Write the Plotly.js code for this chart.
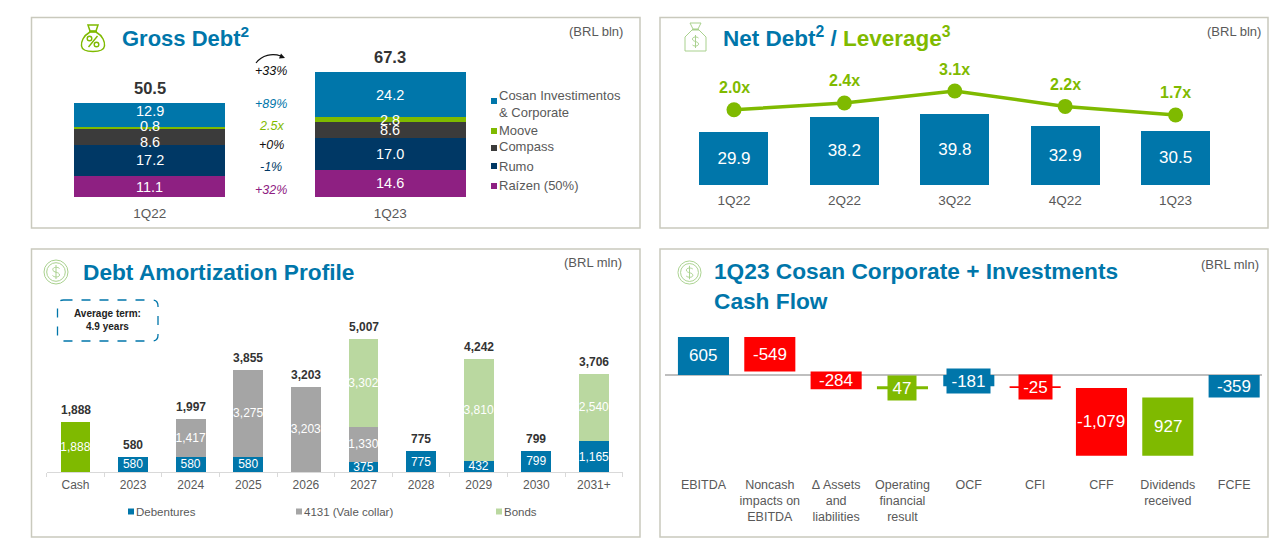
<!DOCTYPE html>
<html><head><meta charset="utf-8">
<script src="https://cdn.plot.ly/plotly-3.0.1.min.js"></script>
<style>html,body{margin:0;padding:0;background:#fff;overflow:hidden}#c{width:1280px;height:551px}</style>
</head><body><div id="c"></div>
<script>
// ---- data ----
const grossCats = ['1Q22','1Q23'];
const raizen = [11.1,14.6];
const rumo = [17.2,17.0];
const compass = [8.6,8.6];
const moove = [0.8,2.8];
const cosan = [12.9,24.2];
const grossTotals = [50.5,67.3];
const grossChanges = ['+33%','+89%','2.5x','+0%','-1%','+32%'];

const netCats = ['1Q22','2Q22','3Q22','4Q22','1Q23'];
const netDebt = [29.9,38.2,39.8,32.9,30.5];
const leverage = [2.0,2.4,3.1,2.2,1.7];

const amortCats = ['Cash','2023','2024','2025','2026','2027','2028','2029','2030','2031+'];
const cash = [1888,null,null,null,null,null,null,null,null,null];
const debentures = [null,580,580,580,null,375,775,432,799,1165];
const vale4131 = [null,null,1417,3275,3203,1330,null,null,null,null];
const bonds = [null,null,null,null,null,3302,null,3810,null,2540];
const amortTotals = [1888,580,1997,3855,3203,5007,775,4242,799,3706];

const flowCats = ['EBITDA','Noncash<br>impacts on<br>EBITDA','Δ Assets<br>and<br>liabilities','Operating<br>financial<br>result','OCF','CFI','CFF','Dividends<br>received','FCFE'];
const flowValues = [605,-549,-284,47,-181,-25,-1079,927,-359];
const flowMeasure = ['absolute','relative','relative','relative','absolute','relative','relative','relative','absolute'];

// ---- style / helpers ----
const W=1280,H=551;
const BLUE='#0076AA',GREEN='#7FBA00',NAVY='#003865',DARK='#3B3B3B',PURPLE='#8E2082',RED='#FF0000',GREY='#A5A5A5',LGREEN='#BAD8A0',TXT='#595959';
const FONT='"Liberation Sans", Arial, sans-serif';
const xd=(a,b)=>[a/W,b/W], yd=(t,b)=>[1-b/H,1-t/H], px=x=>x/W, py=y=>1-y/H;
const note=(x,y,text,size,color,opt={})=>{
  const anchor=opt.xanchor||'left';
  const pad=anchor==='left'?-2:(anchor==='right'?2:0);
  return Object.assign({xref:'paper',yref:'paper',x:px(x+pad),y:py(y),text,showarrow:false,
    xanchor:'left',yanchor:'middle',align:'left',font:{family:FONT,size,color}},opt);
};
const fmt=n=>n.toLocaleString('en-US');

const traces=[];
const stackT=(name,y,color)=>({type:'bar',name,x:grossCats,y,xaxis:'x',yaxis:'y',width:0.628,marker:{color},hoverinfo:'skip',showlegend:false});
const stackSeries=[raizen,rumo,compass,moove,cosan];
traces.push(stackT('Raízen (50%)',raizen,PURPLE),stackT('Rumo',rumo,NAVY),stackT('Compass',compass,DARK),stackT('Moove',moove,GREEN),stackT('Cosan Investimentos & Corporate',cosan,BLUE));

traces.push({type:'bar',name:'Net Debt',x:netCats,y:netDebt,xaxis:'x2',yaxis:'y2',width:0.625,marker:{color:BLUE},
  text:netDebt.map(v=>v.toFixed(1)),textposition:'inside',insidetextanchor:'middle',constraintext:'none',textangle:0,
  insidetextfont:{family:FONT,size:17,color:'#fff'},hoverinfo:'skip',showlegend:false});
traces.push({type:'scatter',mode:'lines+markers',name:'Leverage',x:netCats,y:leverage,xaxis:'x2',yaxis:'y3',
  line:{color:GREEN,width:3.5},marker:{color:GREEN,size:15},hoverinfo:'skip',showlegend:false});

const amortT=(name,y,color)=>({type:'bar',name,x:amortCats,y,xaxis:'x3',yaxis:'y4',width:0.515,marker:{color},
  texttemplate:'%{y:,}',textposition:'inside',insidetextanchor:'middle',constraintext:'none',textangle:0,
  insidetextfont:{family:FONT,size:12,color:'#fff'},hoverinfo:'skip',showlegend:false});
traces.push(amortT('Cash',cash,GREEN),amortT('Debentures',debentures,BLUE),amortT('4131 (Vale collar)',vale4131,GREY),amortT('Bonds',bonds,LGREEN));

traces.push({type:'waterfall',name:'Cash Flow',x:flowCats,y:flowValues,measure:flowMeasure,xaxis:'x4',yaxis:'y5',width:0.77,
  textinfo:'none',connector:{visible:false},hoverinfo:'skip',showlegend:false,
  increasing:{marker:{color:GREEN}},decreasing:{marker:{color:RED}},totals:{marker:{color:BLUE}}});

const ann=[];
// panel titles and units
ann.push(note(122,37,'<b>Gross Debt<sup>2</sup></b>',22,BLUE));
ann.push(note(723,37,`<b>Net Debt<sup>2</sup> / <span style="color:${GREEN}">Leverage<sup>3</sup></span></b>`,22.5,BLUE));
ann.push(note(83,272,'<b>Debt Amortization Profile</b>',22.7,BLUE));
ann.push(note(714,285.5,'<b>1Q23 Cosan Corporate + Investments<br>Cash Flow</b>',22.7,BLUE));
ann.push(note(623,32,'(BRL bln)',13,TXT,{xanchor:'right'}));
ann.push(note(1261,32,'(BRL bln)',13,TXT,{xanchor:'right'}));
ann.push(note(622,263,'(BRL mln)',13,TXT,{xanchor:'right'}));
ann.push(note(1259,264,'(BRL mln)',13,TXT,{xanchor:'right'}));
// gross debt segment labels: drawn over all segments so thin ones stay legible
const nudge={'0:2':-5.5,'0:3':2,'0:4':4.5};
grossCats.forEach((c,i)=>{
  let base=0;
  stackSeries.forEach((s,k)=>{
    ann.push({xref:'x',yref:'y',x:c,y:base+s[i]/2,text:s[i].toFixed(1),showarrow:false,yshift:(nudge[i+':'+k]||0),
      font:{family:FONT,size:14.5,color:'#fff'}});
    base+=s[i];
  });
});
// gross debt totals, change column, legend
grossCats.forEach((c,i)=>ann.push({xref:'x',yref:'y',x:c,y:grossTotals[i],text:'<b>'+grossTotals[i].toFixed(1)+'</b>',showarrow:false,yanchor:'bottom',yshift:4,font:{family:FONT,size:16.5,color:'#333'}}));
const changeColors=['#111',BLUE,GREEN,'#111',NAVY,PURPLE], changeY=[71,104,126,145,167,190];
grossChanges.forEach((t,i)=>ann.push(note(271,changeY[i],'<i>'+t+'</i>',12.5,changeColors[i],{xanchor:'center'})));
const shapes=[];
const swatch=(x,y,color)=>shapes.push({type:'rect',xref:'paper',yref:'paper',x0:px(x),x1:px(x+6),y0:py(y+3),y1:py(y-3),fillcolor:color,line:{width:0}});
[['Cosan Investimentos<br>& Corporate',104,BLUE,101],['Moove',130,GREEN,131],['Compass',147,DARK,148],['Rumo',166,NAVY,166],['Raízen (50%)',185,PURPLE,186]]
 .forEach(([t,y,c,sy])=>{ann.push(note(499,y,t,13,TXT));swatch(491,sy,c);});
// net debt labels
netCats.forEach((c,i)=>ann.push({xref:'x2',yref:'y3',x:c,y:leverage[i],text:'<b>'+leverage[i].toFixed(1)+'x</b>',showarrow:false,yshift:22,font:{family:FONT,size:16,color:GREEN}}));
// amortization totals, legend, callout (category position by index: labels such as 2023 look numeric)
amortCats.forEach((c,i)=>ann.push({xref:'x3',yref:'y4',x:i,y:amortTotals[i],text:'<b>'+fmt(amortTotals[i])+'</b>',showarrow:false,yanchor:'bottom',yshift:3,font:{family:FONT,size:12,color:'#333'}}));
[['Debentures',128,BLUE],['4131 (Vale collar)',296,GREY],['Bonds',496,LGREEN]].forEach(([t,x,c])=>{swatch(x,511.5,c);ann.push(note(x+8,511.5,t,11.5,TXT));});
ann.push(note(107.5,320,'<b>Average term:<br>4.9 years</b>',10,'#222',{xanchor:'center',align:'center'}));
// cash flow labels, with a filled box where the bar is thinner than the label
const boxed={'Operating<br>financial<br>result':28,'OCF':43,'CFI':33};
const colorOf=i=>flowMeasure[i]==='absolute'?BLUE:(flowValues[i]>0?GREEN:RED);
let run=0;
flowCats.forEach((c,i)=>{
  const start=flowMeasure[i]==='absolute'?0:run, end=start+flowValues[i]; run=end;
  const a={xref:'x4',yref:'y5',x:i,y:(start+end)/2,text:fmt(flowValues[i]),showarrow:false,font:{family:FONT,size:17,color:'#fff'}};
  if(boxed[c]){a.bgcolor=colorOf(i);a.borderpad=0;a.width=boxed[c];a.height=24;}
  ann.push(a);
});
// panel frames
[[31.5,17.5,640,228],[660,17.5,1268,228],[31.5,249,640,537],[660,249,1268,537]].forEach(([a,t,b,u])=>
  shapes.push({type:'rect',xref:'paper',yref:'paper',x0:px(a),x1:px(b),y0:py(u),y1:py(t),line:{color:'#C9C9BD',width:1.5},fillcolor:'rgba(0,0,0,0)',layer:'below'}));
// dashed callout with rounded corners
const r=6,L=57.5,R=158,T=300,B=341;
const P=(x,y)=>px(x)+','+py(y);
shapes.push({type:'path',xref:'paper',yref:'paper',line:{color:BLUE,width:1.3,dash:'dash'},
  path:`M${P(L+r,T)} L${P(R-r,T)} Q${P(R,T)} ${P(R,T+r)} L${P(R,B-r)} Q${P(R,B)} ${P(R-r,B)} L${P(L+r,B)} Q${P(L,B)} ${P(L,B-r)} L${P(L,T+r)} Q${P(L,T)} ${P(L+r,T)} Z`});

// icons and the curved arrow
const svg=(w,h,body)=>'data:image/svg+xml;utf8,'+encodeURIComponent(`<svg xmlns="http://www.w3.org/2000/svg" width="${w}" height="${h}" viewBox="0 0 ${w} ${h}">${body}</svg>`);
const img=(src,x,y,w,h)=>({source:src,xref:'paper',yref:'paper',x:px(x),y:py(y),sizex:w/W,sizey:h/H,xanchor:'left',yanchor:'top',sizing:'stretch',layer:'above'});
const G='#7FBA00', LG='#A9D18E';
const bag=svg(26,30,`<g fill="none" stroke="${G}" stroke-width="1.5"><path d="M8 2 L18 2 L16 8 L10 8 Z"/><path d="M10 9 C3 13 1 19 1.5 23 C2 27 6 28.5 13 28.5 C20 28.5 24 27 24.5 23 C25 19 23 13 16 9 Z"/><path d="M9 8.5 H17"/></g><g fill="none" stroke="${G}" stroke-width="1.4"><path d="M17.5 13 L8.5 24"/><circle cx="9.5" cy="15.5" r="2.3"/><circle cx="16.5" cy="21.5" r="2.3"/></g>`);
const bag2=svg(23,30,`<g fill="none" stroke="${LG}" stroke-width="1"><path d="M6 1 L17 1 L14 7 L9 7 Z"/><path d="M8 8 L1 15 L1 29 L22 29 L22 15 L15 8 Z"/><path d="M8 7.5 H15"/><path d="M14.5 16 C13 14.5 8.5 14.5 8.5 17 C8.5 20 14.5 19 14.5 22 C14.5 24.5 10 24.5 8.5 23 M11.5 13 V26"/></g>`);
const coin=svg(26,26,`<g fill="none" stroke="${LG}" stroke-width="1"><circle cx="13" cy="13" r="12"/><circle cx="13" cy="13" r="9.3"/><path d="M16.5 9.5 C15 7.8 9.8 7.8 9.8 10.5 C9.8 14 16.5 12.5 16.5 16 C16.5 18.5 11 18.5 9.5 16.5 M13 6 V20"/></g>`);
const curve=svg(32,12,`<path d="M2 11 C8 3 18 1 27 4" fill="none" stroke="#111" stroke-width="1.2"/><path d="M31 6 L25 6.5 L27 1.5 Z" fill="#111"/>`);
const images=[img(bag,80,23,26,30),img(bag2,684,22,23,30),img(coin,43,259,26,26),img(coin,677,260,25,25),img(curve,254,52,32,12)];

const base={showgrid:false,zeroline:false,fixedrange:true};
const cat=(o)=>Object.assign({},base,{type:'category',tickfont:{family:FONT,size:13.5,color:TXT},ticks:'',showline:false},o);
const val=(o)=>Object.assign({},base,{showticklabels:false,ticks:'',showline:false},o);

const layout={width:W,height:H,margin:{l:0,r:0,t:0,b:0},paper_bgcolor:'#fff',plot_bgcolor:'rgba(0,0,0,0)',barmode:'stack',showlegend:false,
  xaxis:cat({domain:xd(29.5,510.5),range:[-0.5,1.5],anchor:'y',ticklabelstandoff:6}),
  yaxis:val({domain:yd(62,197),range:[0,72.8],anchor:'x'}),
  xaxis2:cat({domain:xd(678.8,1230.8),range:[-0.5,4.5],anchor:'y2',ticklabelstandoff:5}),
  yaxis2:val({domain:yd(60,185),range:[0,70.2],anchor:'x2'}),
  yaxis3:val({domain:yd(60,185),range:[-2.397,4.913],anchor:'x2',overlaying:'y2',side:'right'}),
  xaxis3:cat({domain:xd(46.7,622.7),range:[-0.5,9.5],anchor:'y4',tickfont:{family:FONT,size:12,color:TXT},showline:true,linecolor:'#D9D9D9',linewidth:1.2,ticks:'outside',ticklen:4,tickcolor:'#D9D9D9',tickson:'boundaries',ticklabelstandoff:1}),
  yaxis4:val({domain:yd(330,472),range:[0,5346],anchor:'x3'}),
  xaxis4:cat({domain:xd(665,1262),range:[-0.58,8.42],anchor:'y5',tickfont:{family:FONT,size:12.5,color:TXT},ticklabelstandoff:3}),
  yaxis5:val({domain:yd(330,472),range:[-1545,716],anchor:'x4',zeroline:true,zerolinecolor:'#BFBFBF',zerolinewidth:1.5}),
  annotations:ann,shapes,images};
Plotly.newPlot('c',traces,layout,{displayModeBar:false,staticPlot:true});
</script></body></html>
